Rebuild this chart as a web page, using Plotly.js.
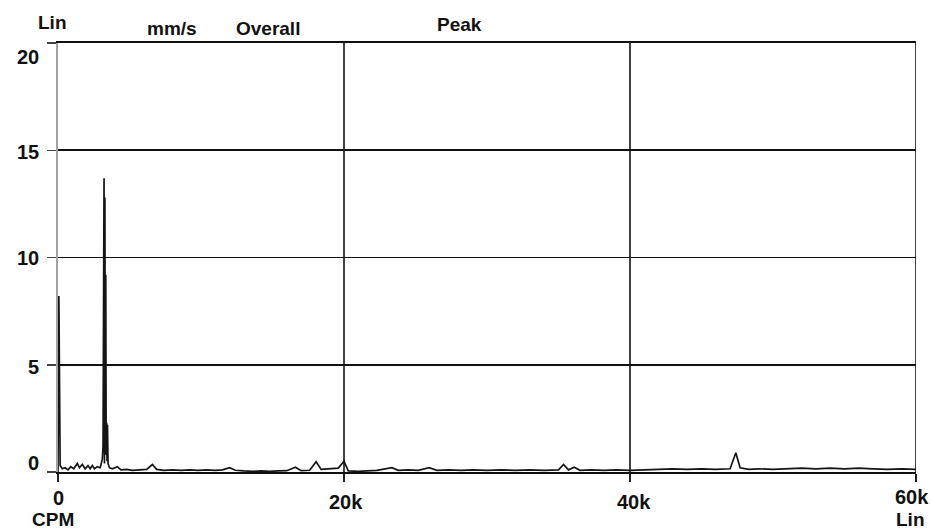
<!DOCTYPE html>
<html>
<head>
<meta charset="utf-8">
<script src="https://cdn.plot.ly/plotly-3.0.1.min.js"></script>
<style>
  html, body { margin: 0; padding: 0; background: #fff; }
  #chart { width: 932px; height: 531px; }
</style>
</head>
<body>
<div id="chart"></div>
<script>
// Vibration velocity spectrum, linear scales: frequency in CPM vs amplitude in mm/s (peak)
const cpm = [
  0, 60, 150, 300, 500, 700, 900, 1100, 1350, 1500, 1700, 1900, 2100, 2250, 2400, 2550,
  2750, 2950, 3100, 3150, 3190, 3220, 3250, 3280, 3310, 3340, 3370, 3400, 3430, 3460, 3500,
  3600, 3800, 4150,
  4400, 4800, 5200, 5700, 6200, 6600, 6900, 7400, 8000, 8600, 9200, 9800, 10400, 11000,
  11500, 12000, 12400, 13000, 13600, 14200, 14800, 15400, 16000, 16600, 17000, 17600,
  18050, 18400, 19000, 19600, 20000, 20300, 21000, 21500, 22300, 23350, 23800, 24500,
  25200, 25950, 26500, 27300, 28200, 29000, 30000, 31000, 32000, 33000, 34000, 35000,
  35350, 35700, 36100, 36500, 37300, 38200, 39000, 40000, 41000, 42000, 43000, 44000,
  45000, 46000, 47000, 47400, 47700, 48300, 49000, 50000, 51000, 52000, 53000, 54000,
  55000, 56000, 57000, 58000, 59000, 60000
];
const velocity = [
  0.00, 8.20, 0.30, 0.15, 0.20, 0.10, 0.25, 0.15, 0.40, 0.20, 0.35, 0.15, 0.30, 0.15, 0.30, 0.15,
  0.25, 0.20, 0.60, 1.20, 8.50, 13.70, 0.40, 12.80, 1.00, 9.20, 0.80, 2.30, 0.50, 2.20, 0.40,
  0.20, 0.15, 0.25,
  0.10, 0.12, 0.08, 0.10, 0.12, 0.35, 0.12, 0.08, 0.10, 0.08, 0.10, 0.08, 0.10, 0.08,
  0.10, 0.20, 0.08, 0.05, 0.03, 0.05, 0.03, 0.05, 0.06, 0.22, 0.06, 0.08,
  0.48, 0.12, 0.15, 0.18, 0.50, 0.05, 0.03, 0.05, 0.08, 0.20, 0.08, 0.10,
  0.08, 0.20, 0.08, 0.10, 0.08, 0.10, 0.08, 0.10, 0.08, 0.10, 0.08, 0.10,
  0.35, 0.10, 0.22, 0.08, 0.10, 0.08, 0.10, 0.08, 0.10, 0.12, 0.15, 0.12,
  0.15, 0.12, 0.15, 0.90, 0.20, 0.12, 0.15, 0.12, 0.15, 0.18, 0.15, 0.18,
  0.15, 0.18, 0.15, 0.12, 0.15, 0.12
];

const xTickVals = [0, 20000, 40000, 60000];
const xTickText = ['0', '20k', '40k', '60k'];
const xLabelShift = [[0, -26], [2, -30], [4, -30], [-4, -25]];
const xGridVals = [20000, 40000, 60000];
const yTickVals = [0, 5, 10, 15, 20];
const yTickText = ['0', '5', '10', '15', '20'];
const yLabelShift = [9, -2, 0, -2, -14];

const FONT = 'Liberation Sans, Arial, Helvetica, sans-serif';
const INK = '#111';
const tickFont = { family: FONT, size: 20, color: INK, weight: 700 };

const trace = {
  x: cpm,
  y: velocity,
  type: 'scatter',
  mode: 'lines',
  line: { color: '#151515', width: 1.7 },
  hoverinfo: 'x+y'
};

// axis numbers are placed as annotations so the end labels can sit inside, as on the printout
const yLabels = yTickVals.map((v, i) => ({
  xref: 'paper', yref: 'y', x: 0, y: v,
  xanchor: 'right', yanchor: 'middle', xshift: -17, yshift: yLabelShift[i],
  text: yTickText[i], showarrow: false, font: tickFont
}));
const xLabels = xTickVals.map((v, i) => ({
  xref: 'x', yref: 'paper', x: v, y: 0,
  xanchor: 'center', yanchor: 'middle', xshift: xLabelShift[i][0], yshift: xLabelShift[i][1],
  text: xTickText[i], showarrow: false, font: tickFont
}));

const headerFont = { family: FONT, size: 19, color: INK, weight: 700 };
const headers = [
  { text: 'Lin', x: -0.006, y: 1.047 },
  { text: 'mm/s', x: 0.133, y: 1.033 },
  { text: 'Overall', x: 0.245, y: 1.033 },
  { text: 'Peak', x: 0.468, y: 1.042 },
  { text: 'CPM', x: -0.006, y: -0.110 },
  { text: 'Lin', x: 0.994, y: -0.110 }
].map(h => ({
  xref: 'paper', yref: 'paper', x: h.x, y: h.y,
  xanchor: 'center', yanchor: 'middle',
  text: h.text, showarrow: false, font: headerFont
}));

// vertical grid lines (the 0 CPM edge keeps the grey y-axis line instead)
const vGrid = xGridVals.map(v => ({
  type: 'line', xref: 'x', yref: 'paper', x0: v, x1: v, y0: 0, y1: 1,
  line: { color: '#111', width: 1.6 }, layer: 'below'
}));

const layout = {
  width: 932,
  height: 531,
  margin: { l: 58, r: 16, t: 43, b: 59 },
  paper_bgcolor: '#fff',
  plot_bgcolor: '#fff',
  showlegend: false,
  xaxis: {
    range: [0, 60000],
    tickvals: xTickVals,
    showticklabels: false,
    ticks: 'outside',
    ticklen: 8,
    tickwidth: 1.5,
    tickcolor: '#222',
    showgrid: false,
    zeroline: false,
    showline: true,
    mirror: true,
    linecolor: '#111',
    linewidth: 1.6,
    fixedrange: true
  },
  yaxis: {
    range: [0, 20],
    tickvals: yTickVals,
    showticklabels: false,
    ticks: 'outside',
    ticklen: 9,
    tickwidth: 1.5,
    tickcolor: '#444',
    showgrid: true,
    gridcolor: '#111',
    gridwidth: 1.6,
    zeroline: false,
    showline: true,
    linecolor: '#a2a2a2',
    linewidth: 2.2,
    fixedrange: true
  },
  shapes: vGrid,
  annotations: yLabels.concat(xLabels, headers)
};

Plotly.newPlot('chart', [trace], layout, { displayModeBar: false, staticPlot: true });
</script>
</body>
</html>
